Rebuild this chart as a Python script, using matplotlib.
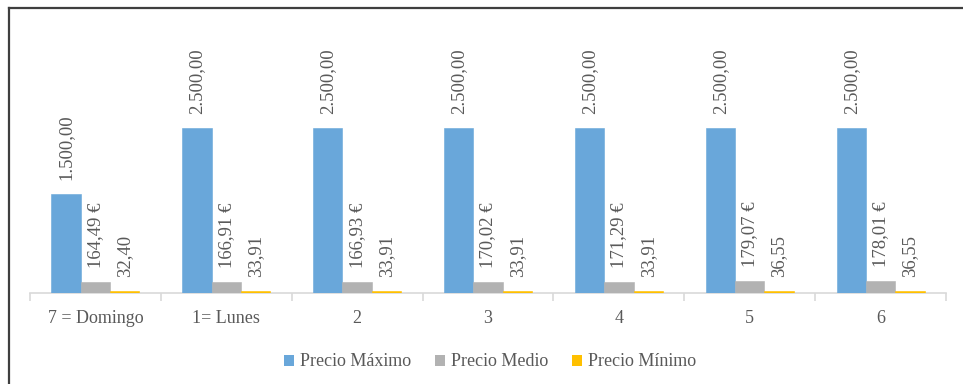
import matplotlib
matplotlib.use("Agg")
import matplotlib.pyplot as plt
from matplotlib.lines import Line2D
from matplotlib.patches import Patch
import numpy as np

categories = ["7 = Domingo", "1= Lunes", "2", "3", "4", "5", "6"]
precio_maximo = [1500.00, 2500.00, 2500.00, 2500.00, 2500.00, 2500.00, 2500.00]
precio_medio = [164.49, 166.91, 166.93, 170.02, 171.29, 179.07, 178.01]
precio_minimo = [32.40, 33.91, 33.91, 33.91, 33.91, 36.55, 36.55]
series_names = ["Precio Máximo", "Precio Medio", "Precio Mínimo"]

colors = ["#69A7DA", "#B2B2B2", "#FFC000"]
text_color = "#595959"
font = "Liberation Serif"


def es_number(v):
    s = f"{v:,.2f}"
    return s.replace(",", "X").replace(".", ",").replace("X", ".")


formatters = [
    lambda v: es_number(v),
    lambda v: es_number(v) + " €",
    lambda v: es_number(v),
]

W, H = 963, 384
fig = plt.figure(figsize=(W / 100, H / 100), dpi=100)
ax = fig.add_axes([30 / W, 1 - 293 / H, (946 - 30) / W, (293 - 20) / H])

x = np.arange(len(categories))
bw = 0.224
offsets = [-bw, 0.0, bw]
for vals, off, col, fmt in zip([precio_maximo, precio_medio, precio_minimo],
                               offsets, colors, formatters):
    bars = ax.bar(x + off, vals, width=bw, color=col, edgecolor=col,
                  linewidth=0.4, zorder=2)
    for b, v in zip(bars, vals):
        ax.annotate(fmt(v), (b.get_x() + b.get_width() / 2, v),
                    xytext=(0, 10), textcoords="offset points",
                    rotation=90, ha="center", va="bottom",
                    fontsize=13.5, family=font, color=text_color)

ax.set_xlim(-0.5, len(categories) - 0.5)
ax.set_ylim(0, (293 - 20) / 165 * 2500)

for s in ["top", "right", "left"]:
    ax.spines[s].set_visible(False)
ax.spines["bottom"].set_color("#D9D9D9")
ax.spines["bottom"].set_linewidth(1.2)
ax.spines["bottom"].set_zorder(1)
ax.set_yticks([])
ax.set_xticks(np.arange(-0.5, len(categories), 1.0))
ax.set_xticklabels([])
ax.tick_params(axis="x", length=6, color="#D9D9D9", width=1.2)
ax.set_xticks(x, minor=True)
ax.set_xticklabels(categories, minor=True, fontsize=13, family=font, color=text_color)
ax.tick_params(axis="x", which="minor", length=0, pad=12)

handles = [Patch(facecolor=c, edgecolor="none") for c in colors]
fig.legend(handles, series_names, loc="center", bbox_to_anchor=(490 / W, 1 - 362 / H),
           ncol=3, frameon=False, handlelength=0.55, handleheight=0.55,
           handletextpad=0.3, columnspacing=1.35,
           prop={"family": font, "size": 13}, labelcolor=text_color)

# outer frame (top and left edges)
fig.add_artist(Line2D([8.5 / W, 8.5 / W], [0, 1 - 7.5 / H], transform=fig.transFigure,
                      color="#3F3F3F", linewidth=1.6))
fig.add_artist(Line2D([8.5 / W, 1], [1 - 7.5 / H, 1 - 7.5 / H], transform=fig.transFigure,
                      color="#3F3F3F", linewidth=1.6))

fig.savefig("out.png", dpi=100)
